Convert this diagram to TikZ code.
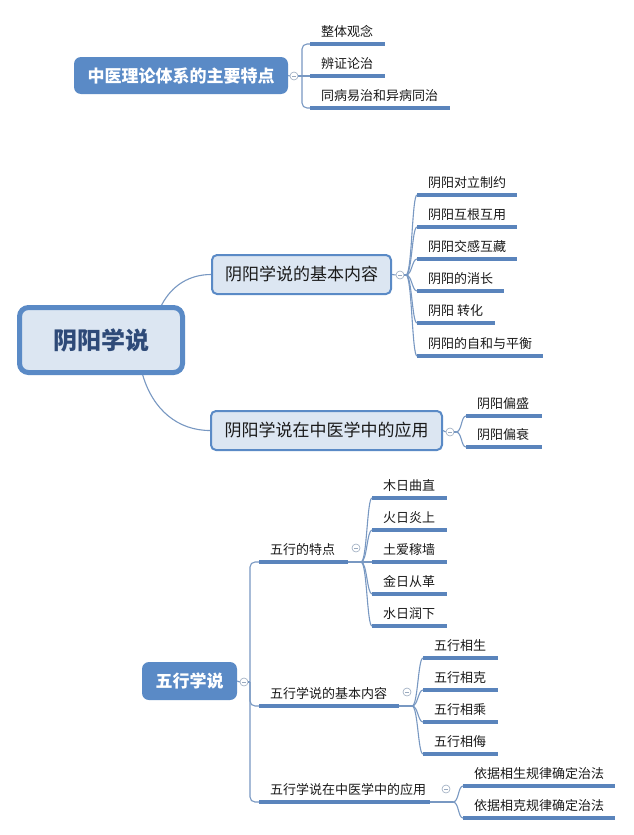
\documentclass[tikz,border=0pt]{standalone}
\usepackage{fontspec}
\setmainfont{Noto Sans CJK SC}
\usetikzlibrary{calc}
\definecolor{mainblue}{HTML}{5A8AC6}
\definecolor{lightfill}{HTML}{DCE6F2}
\definecolor{ulinec}{HTML}{5A84BC}
\definecolor{connc}{HTML}{7898C2}
\definecolor{foldc}{HTML}{9AAABF}
\definecolor{rootyy}{HTML}{2E4A78}
\definecolor{leaftext}{HTML}{1A1A1A}
\newcommand\fsz[1]{\fontsize{#1pt}{#1pt}\selectfont}
\begin{document}
\begin{tikzpicture}[x=1pt,y=-1pt,
  filledbox/.style={rectangle, rounded corners=7pt, fill=mainblue, text=white, font=\fsz{17}\bfseries, inner sep=0pt},
  lightbox/.style={rectangle, rounded corners=5pt, fill=lightfill, draw=mainblue, line width=2pt, text=leaftext, font=\fsz{17}, inner sep=0pt},
  rootbox/.style={lightbox, line width=5pt, rounded corners=9pt, text=rootyy, font=\fsz{24}\bfseries},
  leaf/.style={anchor=south west, inner xsep=11pt, inner ysep=4.5pt, text height=10pt, text depth=3pt, font=\fsz{13}, text=leaftext},
  uline/.style={draw=ulinec, line width=3.2pt},
  conn/.style={draw=connc, line width=1.1pt},
  brk/.style={to path={.. controls ($(\tikztostart)+(6,0)$) and ($(\tikztotarget)+(-5,0)$) .. (\tikztotarget)}},
  fold/.style={circle, draw=foldc, line width=0.6pt, fill=white, minimum size=8pt, inner sep=0pt,
    path picture={\draw[foldc, line width=0.6pt] ([xshift=-2pt]path picture bounding box.center) -- ([xshift=2pt]path picture bounding box.center);}},
]
\useasboundingbox (0,0) rectangle (633,835);
\fill[white] (0,0) rectangle (633,835);

% ---------- top section ----------
\node[filledbox, minimum width=214pt, minimum height=37pt] (top) at (181,75.5) {中医理论体系的主要特点};
\node[fold] (f0) at (294,76) {};
\coordinate (j0) at (302,76);
\node[leaf] (t1) at (310,44) {整体观念};
\node[leaf] (t2) at (310,76) {辨证论治};
\node[leaf] (t3) at (310,108) {同病易治和异病同治};
\draw[conn] (top.east) -- (f0.west);
\draw[conn] (f0.east) -- (j0);
\draw[conn, rounded corners=5pt] (j0) |- (t1.south west);
\draw[conn, rounded corners=5pt] (j0) |- (t3.south west);
\draw[conn] (j0) -- (t2.south west);
\draw[uline] (t1.south west) -- ++(75,0);
\draw[uline] (t2.south west) -- ++(75,0);
\draw[uline] (t3.south west) -- ++(140,0);

% ---------- yin yang ----------
\node[rootbox, minimum width=163pt, minimum height=65pt] (Y) at (101,340) {阴阳学说};
\node[lightbox, minimum width=179pt, minimum height=39pt] (YA) at (301.5,274.5) {阴阳学说的基本内容};
\node[lightbox, minimum width=231pt, minimum height=39pt] (YB) at (326.5,430.5) {阴阳学说在中医学中的应用};
\draw[conn] (Y.30) .. controls (172,285) and (190,274.5) .. (YA.west);
\draw[conn] (Y.-40) .. controls (153,410) and (178,430.5) .. (YB.west);

\node[fold] (fyA) at (400,275) {};
\coordinate (jA) at (406,275);
\draw[conn] (YA.east) -- (fyA.west);
\draw[conn] (fyA.east) -- (jA);
\node[leaf] (ya1) at (417,195) {阴阳对立制约};
\node[leaf] (ya2) at (417,227) {阴阳互根互用};
\node[leaf] (ya3) at (417,259) {阴阳交感互藏};
\node[leaf] (ya4) at (417,291) {阴阳的消长};
\node[leaf] (ya5) at (417,323) {阴阳 转化};
\node[leaf] (ya6) at (417,356) {阴阳的自和与平衡};
\foreach \n in {1,...,6} \draw[conn] (jA) to[brk] (ya\n.south west);
\draw[uline] (ya1.south west) -- ++(100,0);
\draw[uline] (ya2.south west) -- ++(100,0);
\draw[uline] (ya3.south west) -- ++(100,0);
\draw[uline] (ya4.south west) -- ++(87,0);
\draw[uline] (ya5.south west) -- ++(78,0);
\draw[uline] (ya6.south west) -- ++(126,0);

\node[fold] (fyB) at (450,432) {};
\coordinate (jB) at (456,432);
\draw[conn] (YB.east) -- (fyB.west);
\draw[conn] (fyB.east) -- (jB);
\node[leaf] (yb1) at (466,416) {阴阳偏盛};
\node[leaf] (yb2) at (466,447) {阴阳偏衰};
\foreach \n in {1,2} \draw[conn] (jB) to[brk] (yb\n.south west);
\draw[uline] (yb1.south west) -- ++(76,0);
\draw[uline] (yb2.south west) -- ++(76,0);

% ---------- wu xing ----------
\node[filledbox, minimum width=95pt, minimum height=38pt] (W) at (189.5,681) {五行学说};
\node[fold] (fw) at (244,682) {};
\coordinate (jW) at (250,682);
\draw[conn] (W.east) -- (fw.west);
\draw[conn] (fw.east) -- (jW);
\node[leaf] (wa) at (259,562) {五行的特点};
\node[leaf] (wb) at (259,706) {五行学说的基本内容};
\node[leaf] (wc) at (259,802) {五行学说在中医学中的应用};
\draw[conn, rounded corners=5pt] (jW) |- (wa.south west);
\draw[conn, rounded corners=5pt] (jW) |- (wb.south west);
\draw[conn, rounded corners=5pt] (jW) |- (wc.south west);
\coordinate (waE) at ($(wa.south west)+(89,0)$);
\coordinate (wbE) at ($(wb.south west)+(140,0)$);
\coordinate (wcE) at ($(wc.south west)+(171,0)$);
\draw[uline] (wa.south west) -- (waE);
\draw[uline] (wb.south west) -- (wbE);
\draw[uline] (wc.south west) -- (wcE);

% wa children
\node[fold] (fwa) at (356,548) {};
\coordinate (jWA) at (361,562);
\draw[conn] (waE) -- (jWA);
\node[leaf] (wa1) at (372,498) {木日曲直};
\node[leaf] (wa2) at (372,530) {火日炎上};
\node[leaf] (wa3) at (372,562) {土爱稼墙};
\node[leaf] (wa4) at (372,594) {金日从革};
\node[leaf] (wa5) at (372,626) {水日润下};
\foreach \n in {1,...,5} {
  \draw[conn] (jWA) to[brk] (wa\n.south west);
  \draw[uline] (wa\n.south west) -- ++(75,0);
}

% wb children
\node[fold] (fwb) at (407,692) {};
\coordinate (jWB) at (412,706);
\draw[conn] (wbE) -- (jWB);
\node[leaf] (wb1) at (423,658) {五行相生};
\node[leaf] (wb2) at (423,690) {五行相克};
\node[leaf] (wb3) at (423,722) {五行相乘};
\node[leaf] (wb4) at (423,754) {五行相侮};
\foreach \n in {1,...,4} {
  \draw[conn] (jWB) to[brk] (wb\n.south west);
  \draw[uline] (wb\n.south west) -- ++(75,0);
}

% wc children
\node[fold] (fwc) at (446,789) {};
\coordinate (jWC) at (453,802);
\draw[conn] (wcE) -- (jWC);
\node[leaf] (wc1) at (463,786) {依据相生规律确定治法};
\node[leaf] (wc2) at (463,818) {依据相克规律确定治法};
\foreach \n in {1,2} {
  \draw[conn] (jWC) to[brk] (wc\n.south west);
  \draw[uline] (wc\n.south west) -- ++(152,0);
}
\end{tikzpicture}
\end{document}
